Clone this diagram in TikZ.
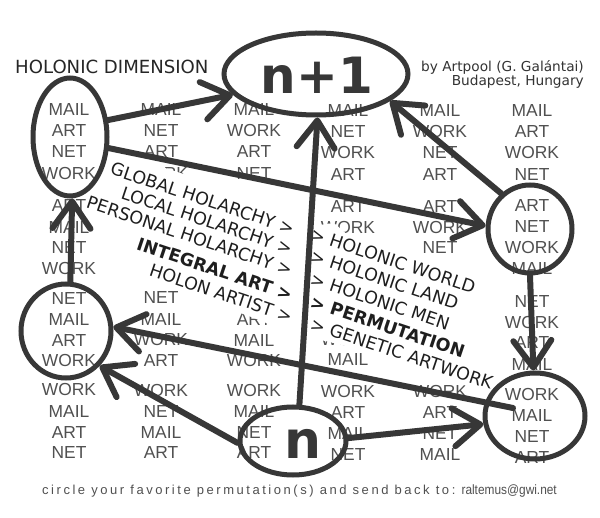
\documentclass[tikz,border=0pt]{standalone}
\usepackage{fontspec}
\usetikzlibrary{shapes.geometric,arrows.meta}
\newfontfamily\gridfont{Liberation Sans}
\newfontfamily\dvfont{DejaVu Sans}
\newfontfamily\spacedfont{Liberation Sans}[LetterSpace=19.5]
\newfontfamily\narrowfont{Liberation Sans}[FakeStretch=0.88]
\definecolor{ink}{RGB}{55,55,55}
\definecolor{gridgray}{RGB}{80,80,80}
\definecolor{paneltext}{RGB}{30,30,30}
\begin{document}
\begin{tikzpicture}[x=1pt,y=-1pt,
  word/.style={font=\gridfont\fontsize{17.4}{20}\selectfont, text=gridgray, inner sep=0pt},
  ring/.style={ellipse, draw=ink, line width=5pt, inner sep=0pt},
  link/.style={draw=ink, line width=6pt, line cap=round, -{Straight Barb[length=27pt,width=38pt,round]}},
  ptext/.style={font=\dvfont\fontsize{17.5}{20}\selectfont, text=paneltext, inner sep=0pt, rotate=-18.5},
  hword/.style={font=\dvfont\bfseries\fontsize{50}{50}\selectfont, text=ink, inner sep=0pt, anchor=base},
]
\useasboundingbox (0,0) rectangle (600,518);
\fill[white] (0,0) rectangle (600,518);

% background grid of words
\foreach \x/\y/\t [count=\i] in {
 69/110/MAIL, 69/131/ART, 69/152/NET, 69/174/WORK,
 69/206/ART, 69/228/MAIL, 69/248/NET, 69/269/WORK,
 69/299/NET, 69/320/MAIL, 69/341/ART, 69/361/WORK,
 69/390/WORK, 69/412/MAIL, 69/433/ART, 69/453/NET,
 161/110/MAIL, 161/131/NET, 161/152/ART, 161/174/WORK,
 161/269/WORK,
 161/298/NET, 161/320/MAIL, 161/340/WORK, 161/361/ART,
 161/391/WORK, 161/412/NET, 161/433/MAIL, 161/453/ART,
 254/110/MAIL, 254/131/WORK, 254/152/ART, 254/174/NET,
 254/320/ART, 254/341/MAIL, 254/361/WORK,
 254/391/WORK, 254/412/MAIL, 254/433/NET, 254/453/ART,
 348/111/MAIL, 348/132/NET, 348/153/WORK, 348/175/ART,
 348/207/ART, 348/228/WORK,
 348/340/WORK, 348/360/MAIL,
 348/392/WORK, 348/413/ART, 348/434/MAIL, 348/455/NET,
 440/111/MAIL, 440/132/WORK, 440/153/NET, 440/175/ART,
 440/207/ART, 440/228/WORK, 440/248/NET,
 440/392/WORK, 440/413/ART, 440/434/NET, 440/455/MAIL,
 532/111/MAIL, 532/132/ART, 532/153/WORK, 532/175/NET,
 532/206/ART, 532/227/NET, 532/248/WORK, 532/269/MAIL,
 532/302/NET, 532/323/WORK, 532/343/ART, 532/365/MAIL,
 532/395/WORK, 532/416/MAIL, 532/437/NET, 532/458/ART}
 {\node[word] (w\i) at (\x,\y) {\t};}

% white panel carrying the rotated texts
\fill[white] (110,150) -- (303,213) -- (303,338) -- (254,318) -- (136,275) -- (88,198) -- cycle;
\fill[white] (312,226) -- (334,223) -- (350,237) -- (500,282) -- (500,398) -- (372,352) -- (312,338) -- cycle;

% left block
\node[ptext, anchor=base east] (l1) at (292,235) {GLOBAL HOLARCHY >};
\node[ptext, anchor=base east] (l2) at (290,255) {LOCAL HOLARCHY >};
\node[ptext, anchor=base east] (l3) at (290,276) {PERSONAL HOLARCHY >};
\node[ptext, anchor=base east, font=\dvfont\bfseries\fontsize{17.5}{20}\selectfont] (l4) at (290,301) {INTEGRAL ART >};
\node[ptext, anchor=base east] (l5) at (290,323) {HOLON ARTIST >};
% right block
\node[ptext, anchor=base west] (r1) at (309,239) {> HOLONIC WORLD};
\node[ptext, anchor=base west] (r2) at (309,261) {> HOLONIC LAND};
\node[ptext, anchor=base west] (r3) at (309,284) {> HOLONIC MEN};
\node[ptext, anchor=base west, font=\dvfont\bfseries\fontsize{17.5}{20}\selectfont] (r4) at (309,307) {> PERMUTATION};
\node[ptext, anchor=base west] (r5) at (309,329) {> GENETIC ARTWORK};

% headings
\node[anchor=base west, inner sep=0pt, font=\dvfont\fontsize{18.1}{20}\selectfont, text=black!85] (title) at (15,74) {HOLONIC DIMENSION};
\node[anchor=base east, inner sep=0pt, font=\dvfont\fontsize{13.7}{16}\selectfont, text=black!80] (by) at (584,72) {by Artpool (G. Galántai)};
\node[anchor=base east, inner sep=0pt, font=\dvfont\fontsize{13.7}{16}\selectfont, text=black!80] (city) at (584,86) {Budapest, Hungary};
\node[anchor=base west, inner sep=0pt, font=\spacedfont\fontsize{13}{15}\selectfont, text=gridgray] (foot) at (42,494) {circle your favorite permutation(s) and send back to:};
\node[anchor=base east, inner sep=0pt, font=\narrowfont\fontsize{13.5}{15}\selectfont, text=gridgray] (mail) at (557,494) {raltemus@gwi.net};

% circled groups
\node[ring, minimum width=184pt, minimum height=82pt] (top) at (316,74) {};
\node[ring, minimum width=74pt, minimum height=118pt] (tl) at (70,137) {};
\node[ring, minimum width=84pt, minimum height=88pt] (rm) at (530,229) {};
\node[ring, minimum width=90pt, minimum height=94pt] (lb) at (66,331) {};
\node[ring, minimum width=100pt, minimum height=86pt] (rb) at (535,416) {};
\node[ring, minimum width=106pt, minimum height=68pt] (bot) at (293,441) {};

\node[hword] (nplus) at (317,94) {n+1};
\node[hword, font=\dvfont\bfseries\fontsize{52}{52}\selectfont] (nn) at (303,459) {n};

% arrows
\coordinate (gstart) at (513,408);
\draw[link] (tl.24) -- (top.194);
\draw[link] (tl.-16) -- (rm.176);
\draw[link] (lb.85) -- (tl.-88);
\draw[link] (rm.129) -- (top.-20);
\draw[link] (bot.80) -- (top.-88);
\draw[link] (rm.-90) -- (rb.92);
\draw[link] (gstart) -- (lb.5);
\draw[link] (bot.182) -- (lb.-46);
\draw[link] (bot.3) -- (rb.189);
\end{tikzpicture}
\end{document}
